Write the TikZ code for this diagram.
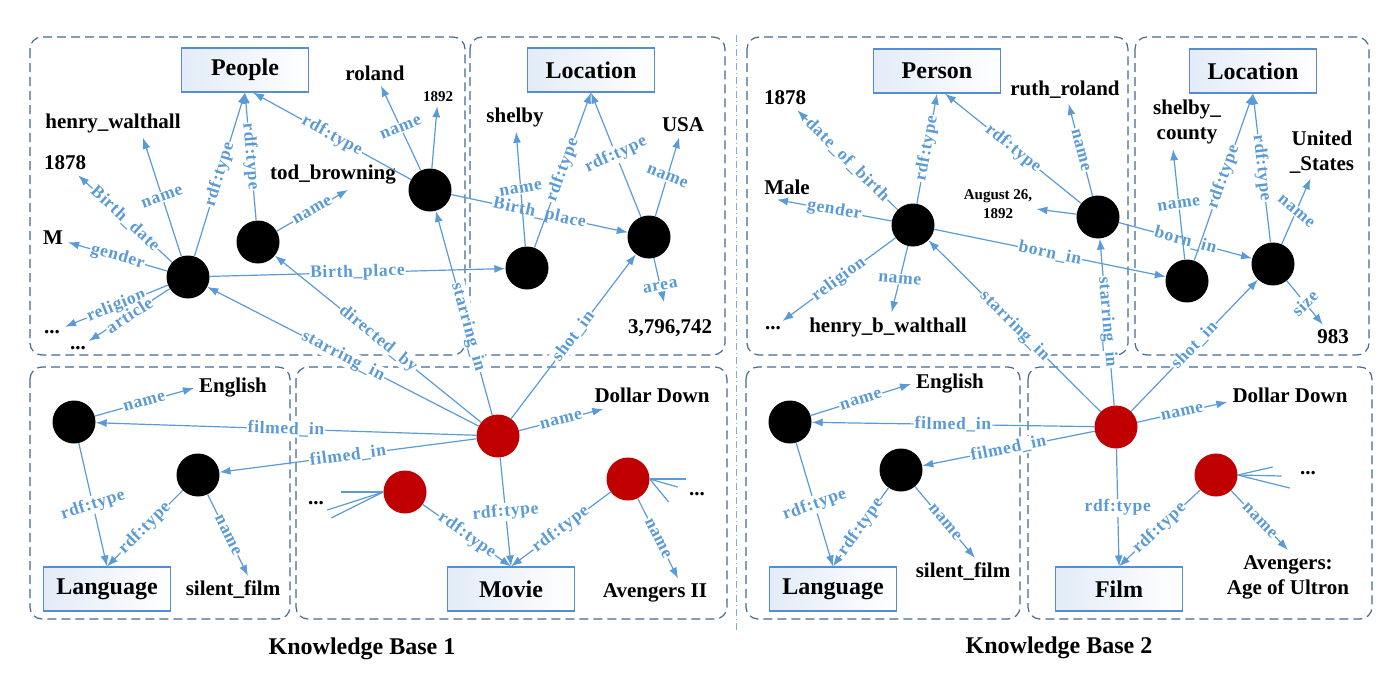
\documentclass[tikz,border=0pt]{standalone}
\usepackage{fontspec}
\setmainfont{Liberation Serif}
\newfontfamily\labelfont[LetterSpace=4]{Liberation Serif}
\usetikzlibrary{arrows.meta}

\definecolor{linkblue}{RGB}{91,155,213}
\definecolor{framegray}{RGB}{68,106,145}
\definecolor{movred}{RGB}{192,0,0}
\definecolor{classline}{RGB}{84,141,212}
\definecolor{classfill}{RGB}{214,227,244}

\tikzset{
  kbframe/.style={draw=framegray, line width=1.2pt, dash pattern=on 9pt off 5pt, rounded corners=12pt},
  res/.style={circle, fill=black, minimum size=43pt, inner sep=0pt},
  mov/.style={circle, fill=movred, minimum size=43pt, inner sep=0pt},
  cls/.style={draw=classline, line width=1.1pt, left color=classfill!70, right color=white,
    minimum width=127pt, minimum height=44pt, font=\fontsize{24}{28}\selectfont\bfseries},
  ent/.style={font=\fontsize{21}{25}\selectfont\bfseries, inner sep=5pt, align=center},
  smalltext/.style={font=\fontsize{15}{19}\selectfont\bfseries, inner sep=4pt, align=center},
  rel/.style={draw=linkblue, line width=1.2pt, -{Latex[length=11pt,width=8pt]}},
  stub/.style={draw=linkblue, line width=1.2pt},
  lbl/.style={font=\labelfont\fontsize{17.5}{18}\selectfont\bfseries, text=linkblue, fill=white, inner sep=1pt},
  lab/.style={lbl, sloped}
}

\begin{document}
\begin{tikzpicture}[x=1pt, y=-1pt]
\useasboundingbox (0,0) rectangle (1400,683);

% frames
\draw[kbframe] (30,37) rectangle (465,355);
\draw[kbframe] (470,37) rectangle (725,355);
\draw[kbframe] (30,367) rectangle (290,619);
\draw[kbframe] (296,367) rectangle (727,619);
\draw[kbframe] (747,37) rectangle (1128,355);
\draw[kbframe] (1135,37) rectangle (1369,355);
\draw[kbframe] (746,367) rectangle (1020,619);
\draw[kbframe] (1028,367) rectangle (1372,619);
\draw[linkblue!80, line width=0.8pt, dash pattern=on 7pt off 3pt on 1pt off 3pt] (736,35) -- (736,630);

% Knowledge Base 1 -- people
\node[cls] (people) at (245,70) {People};
\node[ent] (roland) at (375,73) {roland};
\node[smalltext] (y1892) at (438,97) {1892};
\node[ent] (hw) at (113,123) {henry\_walthall};
\node[ent] (b1878) at (65,163) {1878};
\node[ent] (tb) at (333,175) {tod\_browning};
\node[ent] (gm) at (53,238) {M};
\node[ent] (dotsa) at (52,332) {...};
\node[ent] (dotsb) at (78,348) {...};
\node[res] (a1) at (188,277) {};
\node[res] (a2) at (258,242) {};
\node[res] (a3) at (430,190) {};

% Knowledge Base 1 -- location
\node[cls] (loc1) at (591,70) {Location};
\node[ent] (shelby) at (515,117) {shelby};
\node[ent] (usa) at (683,125) {USA};
\node[ent] (area1) at (670,328) {3,796,742};
\node[res] (b1) at (527,268) {};
\node[res] (b2) at (649,237) {};

% Knowledge Base 1 -- language and movie
\node[res] (c1) at (74,422) {};
\node[res] (c2) at (198,475) {};
\node[ent] (eng1) at (233,388) {English};
\node[cls] (lang1) at (107,589) {Language};
\node[ent] (silent1) at (233,590) {silent\_film};
\node[mov] (m1) at (498,436) {};
\node[mov] (m2) at (405,492) {};
\node[mov] (m3) at (628,479) {};
\node[ent] (dd1) at (652,395) {Dollar Down};
\node[cls] (movie) at (511,589) {Movie};
\node[ent] (av1) at (655,593) {Avengers II};
\node[ent] (dotsc) at (316,503) {...};
\node[ent] (dotsd) at (697,494) {...};

% Knowledge Base 2 -- person
\node[cls] (person) at (937,71) {Person};
\node[ent] (ruth) at (1065,90) {ruth\_roland};
\node[ent] (b1878b) at (785,98) {1878};
\node[ent] (male) at (787,187) {Male};
\node[smalltext] (aug) at (998,204) {August 26,\\1892};
\node[ent] (dotse) at (773,328) {...};
\node[ent] (hbw) at (888,327) {henry\_b\_walthall};
\node[res] (d1) at (913,225) {};
\node[res] (d2) at (1098,217) {};

% Knowledge Base 2 -- location
\node[cls] (loc2) at (1253,71) {Location};
\node[ent] (county) at (1187,122) {shelby\_\\county};
\node[ent] (us) at (1322,152) {United\\\_States};
\node[ent] (n983) at (1333,337) {983};
\node[res] (e1) at (1187,281) {};
\node[res] (e2) at (1273,264) {};

% Knowledge Base 2 -- language and film
\node[res] (f1) at (790,422) {};
\node[res] (f2) at (901,470) {};
\node[ent] (eng2) at (950,384) {English};
\node[cls] (lang2) at (833,589) {Language};
\node[ent] (silent2) at (963,572) {silent\_film};
\node[mov] (g1) at (1116,427) {};
\node[mov] (g2) at (1216,475) {};
\node[ent] (dd2) at (1290,395) {Dollar Down};
\node[cls] (film) at (1119,589) {Film};
\node[ent] (av2) at (1288,577) {Avengers:\\Age of Ultron};
\node[ent] (dotsf) at (1308,473) {...};

% titles
\node[font=\fontsize{24}{28}\selectfont\bfseries] (kbone) at (362,649) {Knowledge Base 1};
\node[font=\fontsize{24}{28}\selectfont\bfseries] (kbtwo) at (1059,648) {Knowledge Base 2};

% KB1 edges
\draw[rel] (a1) -- node[lbl, rotate=20] {name} ([xshift=30pt]hw.south);
\draw[rel] (a1) -- node[lab] {Birth\_date} (b1878);
\draw[rel] (a1) -- node[lab] {gender} (gm);
\draw[rel] (a1) -- node[lab] {religion} (dotsa);
\draw[rel] (a1) -- node[lab] {article} (dotsb);
\draw[rel] (a1) -- node[lab] {rdf:type} (people.south);
\draw[rel] (a2) -- node[lab] {rdf:type} (people.south);
\draw[rel] (a2) -- node[lab] {name} ([xshift=15pt]tb.south);
\draw[rel] (a3) -- node[lab] {rdf:type} ([xshift=8pt]people.south);
\draw[rel] (a3) -- node[lbl, rotate=22] {name} (roland);
\draw[rel] (a3) -- (y1892);
\draw[rel] (a1) -- node[lab] {Birth\_place} (b1);
\draw[rel] (a3) -- node[lab] {Birth\_place} (b2);
\draw[rel] (b1) -- node[lbl, rotate=10] {name} (shelby);
\draw[rel] (b1) -- node[lab] {rdf:type} (loc1.south);
\draw[rel] (b2) -- node[lbl, rotate=25] {rdf:type} (loc1.south);
\draw[rel] (b2) -- node[lbl, rotate=-22] {name} (usa);
\draw[rel, shorten >=12pt] (b2) -- node[lbl, rotate=10] {area} (area1);
\draw[rel] (m1) -- node[lab] {starring\_in} (a1);
\draw[rel] (m1) -- node[lab] {directed\_by} (a2);
\draw[rel] (m1) -- node[lab, pos=.43] {starring\_in} (a3);
\draw[rel] (m1) -- node[lab] {shot\_in} (b2);
\draw[rel] (m1) -- node[lab] {filmed\_in} (c1);
\draw[rel] (m1) -- node[lab] {filmed\_in} (c2);
\draw[rel] (c1) -- node[lab] {name} (eng1.west);
\draw[rel] (c1) -- node[lbl, rotate=18] {rdf:type} (lang1.north);
\draw[rel] (c2) -- node[lab] {rdf:type} (lang1.north);
\draw[rel] (c2) -- node[lab] {name} ([xshift=15pt]silent1.north);
\draw[rel] (m1) -- node[lab] {name} ([xshift=14pt,yshift=-14pt]dd1.west);
\draw[rel] (m1) -- node[lbl, rotate=5] {rdf:type} (movie.north);
\draw[rel] (m2) -- node[lab] {rdf:type} (movie.north);
\draw[rel] (m3) -- node[lab] {rdf:type} (movie.north);
\draw[rel] (m3) -- node[lab] {name} ([xshift=23pt]av1.north);
\foreach \dx/\dy in {-42/0,-56/18,-52/26}
  \draw[stub] (m2.west) -- ++(\dx,\dy);
\foreach \dx/\dy in {36/0,28/8,19/23}
  \draw[stub] (m3.east) -- ++(\dx,\dy);

% KB2 edges
\draw[rel] (d1) -- node[lab] {date\_of\_birth} (b1878b);
\draw[rel] (d1) -- node[lab] {rdf:type} (person.south);
\draw[rel] (d1) -- node[lab] {gender} ([xshift=-10pt]male.south);
\draw[rel] (d1) -- node[lab] {religion} (dotse);
\draw[rel] (d1) -- node[lbl, rotate=-5] {name} (hbw);
\draw[rel] (d2) -- node[lab] {rdf:type} ([xshift=8pt]person.south);
\draw[rel] (d2) -- node[lab] {name} (ruth);
\draw[rel] (d2) -- (aug);
\draw[rel] (d2) -- node[lab] {born\_in} (e2);
\draw[rel] (d1) -- node[lab] {born\_in} (e1);
\draw[rel] (e1) -- node[lbl, rotate=8] {name} ([xshift=-14pt]county.south);
\draw[rel] (e1) -- node[lab] {rdf:type} (loc2.south);
\draw[rel] (e2) -- node[lab] {rdf:type} (loc2.south);
\draw[rel] (e2) -- node[lbl, rotate=-40] {name} (us);
\draw[rel] (e2) -- node[lbl, rotate=45] {size} (n983);
\draw[rel] (g1) -- node[lab] {starring\_in} (d1);
\draw[rel] (g1) -- node[lab] {starring\_in} (d2);
\draw[rel] (g1) -- node[lab] {shot\_in} (e2);
\draw[rel] (g1) -- node[lab] {filmed\_in} (f1);
\draw[rel] (g1) -- node[lab] {filmed\_in} (f2);
\draw[rel] (f1) -- node[lab] {name} (eng2.west);
\draw[rel] (f1) -- node[lbl, rotate=20] {rdf:type} (lang2.north);
\draw[rel] (f2) -- node[lab] {rdf:type} (lang2.north);
\draw[rel] (f2) -- node[lab] {name} ([xshift=12pt]silent2.north);
\draw[rel] (g1) -- node[lab] {name} ([yshift=-7pt]dd2.west);
\draw[rel] (g1) -- node[lbl] {rdf:type} (film.north);
\draw[rel] (g2) -- node[lab] {rdf:type} (film.north);
\draw[rel] (g2) -- node[lab] {name} (av2.north);
\foreach \dx/\dy in {35/-8,44/1,52/13}
  \draw[stub] (g2.east) -- ++(\dx,\dy);

\end{tikzpicture}
\end{document}
